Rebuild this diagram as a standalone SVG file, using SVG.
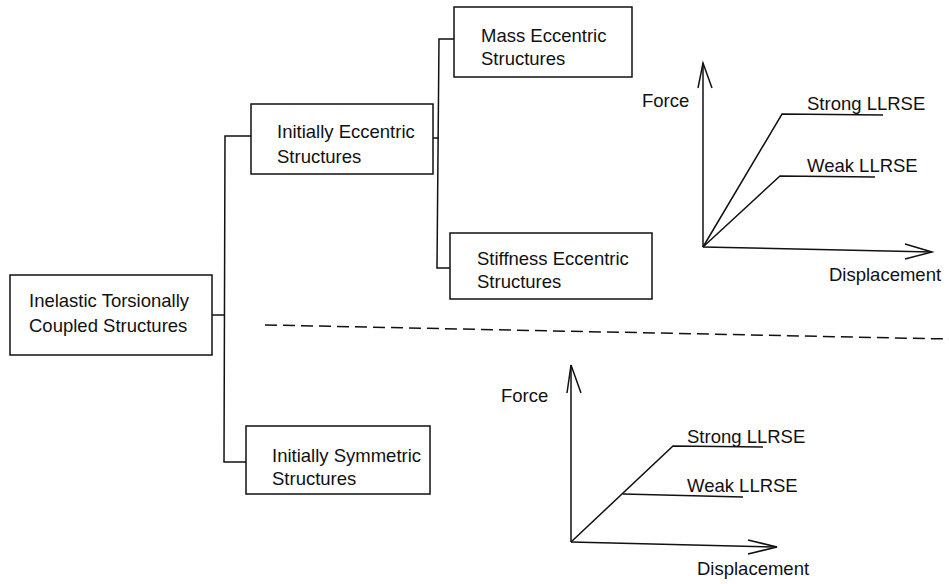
<svg xmlns="http://www.w3.org/2000/svg" width="949" height="584" viewBox="0 0 949 584">
<style>
.box{fill:#fff;stroke:#111;stroke-width:1.5}
.ln{fill:none;stroke:#111;stroke-width:1.5}
.t{font-family:"Liberation Sans",Arial,sans-serif;font-size:18.5px;fill:#111}
.dash{fill:none;stroke:#111;stroke-width:1.5;stroke-dasharray:12 6}
</style>
<rect width="949" height="584" fill="#fff"/>
<g id="connectors">
<polyline class="ln" points="212,315 225,315"/>
<polyline class="ln" points="251,136 225,136 224,462 246,462"/>
<polyline class="ln" points="433,138 439,138"/>
<polyline class="ln" points="454,39 439,39 437,268 450,268"/>
</g>
<g id="n_inelastic">
<rect class="box" x="10" y="275" width="202" height="80"/>
<text class="t" x="29" y="307">Inelastic Torsionally</text>
<text class="t" x="29" y="332">Coupled Structures</text>
</g>
<g id="n_init_ecc">
<rect class="box" x="251" y="104" width="182" height="70"/>
<text class="t" x="277" y="138">Initially Eccentric</text>
<text class="t" x="277" y="163">Structures</text>
</g>
<g id="n_mass">
<rect class="box" x="454" y="7" width="178" height="70"/>
<text class="t" x="481" y="42">Mass Eccentric</text>
<text class="t" x="481" y="65">Structures</text>
</g>
<g id="n_stiff">
<rect class="box" x="450" y="233" width="202" height="66"/>
<text class="t" x="477" y="265">Stiffness Eccentric</text>
<text class="t" x="477" y="288">Structures</text>
</g>
<g id="n_init_sym">
<rect class="box" x="246" y="426" width="184" height="68"/>
<text class="t" x="272" y="462">Initially Symmetric</text>
<text class="t" x="272" y="485">Structures</text>
</g>
<polyline class="dash" points="265,325 949,339"/>
<g id="graph_top">
<polyline class="ln" points="703,247 703,63"/>
<polyline class="ln" points="698,88 703,63 712,88"/>
<polyline class="ln" points="703,247 932,252"/>
<polyline class="ln" points="905,244 932,252 905,259"/>
<polyline class="ln" points="703,247 782,114 883,115"/>
<polyline class="ln" points="703,247 780,176 875,177"/>
<text class="t" x="642" y="107">Force</text>
<text class="t" x="807" y="110">Strong LLRSE</text>
<text class="t" x="807" y="172">Weak LLRSE</text>
<text class="t" x="829" y="281">Displacement</text>
</g>
<g id="graph_bottom">
<polyline class="ln" points="571,542 571,365"/>
<polyline class="ln" points="567,393 571,365 581,393"/>
<polyline class="ln" points="571,542 777,547"/>
<polyline class="ln" points="748,540 777,547 748,554"/>
<polyline class="ln" points="571,542 673,446 763,447"/>
<polyline class="ln" points="623,494 743,497"/>
<text class="t" x="501" y="402">Force</text>
<text class="t" x="687" y="443">Strong LLRSE</text>
<text class="t" x="687" y="492">Weak LLRSE</text>
<text class="t" x="697" y="575">Displacement</text>
</g>
</svg>
